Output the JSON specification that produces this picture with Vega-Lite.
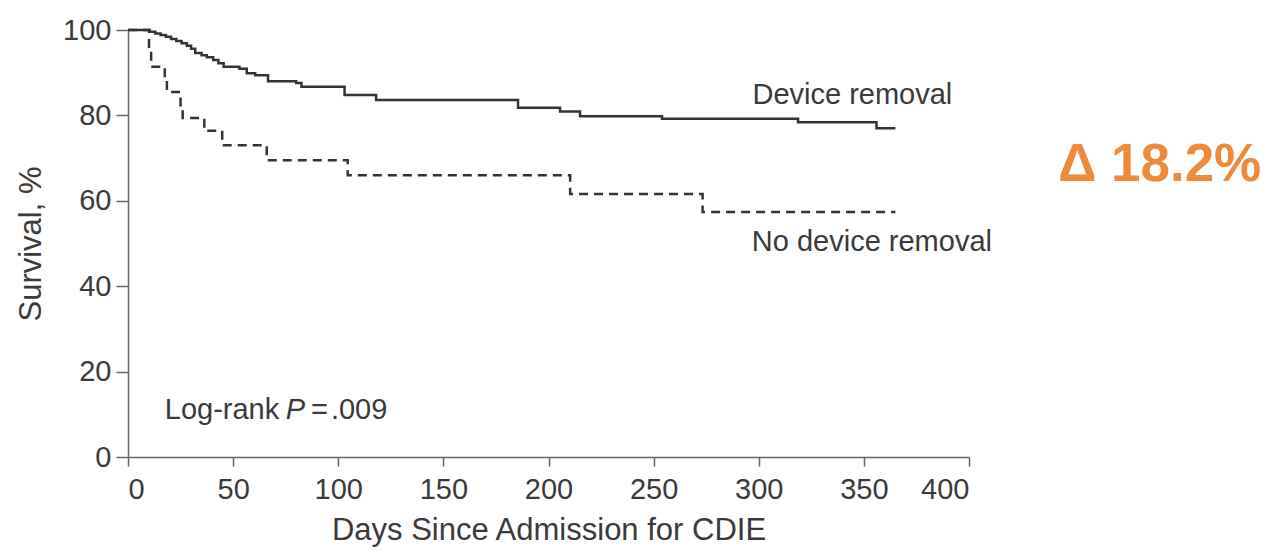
{
  "$schema": "https://vega.github.io/schema/vega-lite/v6.json",
  "autosize": {"type": "none"},
  "padding": {"left": 128, "top": 30, "right": 297, "bottom": 93},
  "width": 841,
  "height": 427,
  "background": "white",
  "config": {
    "view": {"stroke": null},
    "font": "Liberation Sans",
    "axis": {
      "grid": false,
      "domainColor": "#666",
      "domainWidth": 1.5,
      "tickColor": "#666",
      "tickWidth": 1.5,
      "labelColor": "#3a3a3a",
      "titleColor": "#3a3a3a",
      "labelFont": "Liberation Sans",
      "titleFont": "Liberation Sans",
      "labelFontSize": 29,
      "titleFontSize": 31,
      "titleFontWeight": "normal"
    }
  },
  "datasets": {
    "km": [
      {"group": "Device removal", "day": 0, "survival": 100},
      {"group": "Device removal", "day": 10.3, "survival": 99.6},
      {"group": "Device removal", "day": 13, "survival": 99.2},
      {"group": "Device removal", "day": 15.5, "survival": 98.8},
      {"group": "Device removal", "day": 18, "survival": 98.4},
      {"group": "Device removal", "day": 20.5, "survival": 97.9},
      {"group": "Device removal", "day": 23, "survival": 97.4},
      {"group": "Device removal", "day": 25.5, "survival": 96.9},
      {"group": "Device removal", "day": 28, "survival": 96.3},
      {"group": "Device removal", "day": 30, "survival": 95.6},
      {"group": "Device removal", "day": 32, "survival": 94.6},
      {"group": "Device removal", "day": 35, "survival": 94.1},
      {"group": "Device removal", "day": 37.5, "survival": 93.6},
      {"group": "Device removal", "day": 40.5, "survival": 93.0},
      {"group": "Device removal", "day": 43, "survival": 92.2},
      {"group": "Device removal", "day": 45.5, "survival": 91.4},
      {"group": "Device removal", "day": 53, "survival": 90.9},
      {"group": "Device removal", "day": 56.5, "survival": 89.9},
      {"group": "Device removal", "day": 60.5, "survival": 89.4},
      {"group": "Device removal", "day": 66.6, "survival": 88.0},
      {"group": "Device removal", "day": 80, "survival": 87.6},
      {"group": "Device removal", "day": 82.5, "survival": 86.7},
      {"group": "Device removal", "day": 103, "survival": 84.8},
      {"group": "Device removal", "day": 118, "survival": 83.6},
      {"group": "Device removal", "day": 185.5, "survival": 81.8},
      {"group": "Device removal", "day": 205.5, "survival": 80.9},
      {"group": "Device removal", "day": 215, "survival": 79.8},
      {"group": "Device removal", "day": 254, "survival": 79.2},
      {"group": "Device removal", "day": 318.7, "survival": 78.4},
      {"group": "Device removal", "day": 356, "survival": 77.0},
      {"group": "Device removal", "day": 365, "survival": 77.0},
      {"group": "No device removal", "day": 0, "survival": 100},
      {"group": "No device removal", "day": 10, "survival": 95.5},
      {"group": "No device removal", "day": 11, "survival": 91.4},
      {"group": "No device removal", "day": 17.5, "survival": 88.5},
      {"group": "No device removal", "day": 18.5, "survival": 85.5},
      {"group": "No device removal", "day": 25, "survival": 82.4},
      {"group": "No device removal", "day": 26, "survival": 79.4},
      {"group": "No device removal", "day": 36.3, "survival": 76.4},
      {"group": "No device removal", "day": 44.8, "survival": 73.0},
      {"group": "No device removal", "day": 66, "survival": 69.5},
      {"group": "No device removal", "day": 104.5, "survival": 66.0},
      {"group": "No device removal", "day": 210.3, "survival": 61.6},
      {"group": "No device removal", "day": 273.3, "survival": 57.4},
      {"group": "No device removal", "day": 365, "survival": 57.4}
    ],
    "notes": [
      {"label": "Device removal", "day": 297, "survival": 84.8, "style": "normal"},
      {"label": "No device removal", "day": 296.7, "survival": 50.3, "style": "normal"},
      {"label": "Log-rank", "day": 17.5, "survival": 10.9, "style": "normal"},
      {"label": "P", "day": 75.0, "survival": 10.9, "style": "italic"},
      {"label": "=", "day": 87.0, "survival": 10.9, "style": "normal"},
      {"label": ".009", "day": 96.5, "survival": 10.9, "style": "normal"}
    ],
    "delta": [
      {"label": "Δ 18.2%", "day": 442.4, "survival": 68.4}
    ]
  },
  "layer": [
    {
      "data": {"name": "km"},
      "mark": {"type": "line", "interpolate": "step-after", "strokeWidth": 2.5, "clip": false},
      "encoding": {
        "x": {
          "field": "day", "type": "quantitative",
          "scale": {"domain": [0, 400], "nice": false},
          "axis": {"values": [0, 50, 100, 150, 200, 250, 300, 350, 400], "title": "Days Since Admission for CDIE", "tickSize": 9, "labelPadding": 9, "titlePadding": 11}
        },
        "y": {
          "field": "survival", "type": "quantitative",
          "scale": {"domain": [0, 100], "nice": false},
          "axis": {"values": [0, 20, 40, 60, 80, 100], "title": "Survival, %", "tickSize": 12, "labelPadding": 5, "titlePadding": 15}
        },
        "color": {"field": "group", "type": "nominal", "scale": {"range": ["#333333", "#333333"]}, "legend": null},
        "strokeDash": {"field": "group", "type": "nominal", "scale": {"domain": ["Device removal", "No device removal"], "range": [[1, 0], [9, 6]]}, "legend": null}
      }
    },
    {
      "data": {"name": "notes"},
      "transform": [{"filter": "datum.style === 'normal'"}],
      "mark": {"type": "text", "align": "left", "baseline": "middle", "fontSize": 29, "color": "#3a3a3a"},
      "encoding": {
        "x": {"field": "day", "type": "quantitative"},
        "y": {"field": "survival", "type": "quantitative"},
        "text": {"field": "label"}
      }
    },
    {
      "data": {"name": "notes"},
      "transform": [{"filter": "datum.style === 'italic'"}],
      "mark": {"type": "text", "align": "left", "baseline": "middle", "fontSize": 29, "fontStyle": "italic", "color": "#3a3a3a"},
      "encoding": {
        "x": {"field": "day", "type": "quantitative"},
        "y": {"field": "survival", "type": "quantitative"},
        "text": {"field": "label"}
      }
    },
    {
      "data": {"name": "delta"},
      "mark": {"type": "text", "align": "left", "baseline": "middle", "fontSize": 53, "fontWeight": "bold", "color": "#EE8A3C"},
      "encoding": {
        "x": {"field": "day", "type": "quantitative"},
        "y": {"field": "survival", "type": "quantitative"},
        "text": {"field": "label"}
      }
    }
  ]
}
